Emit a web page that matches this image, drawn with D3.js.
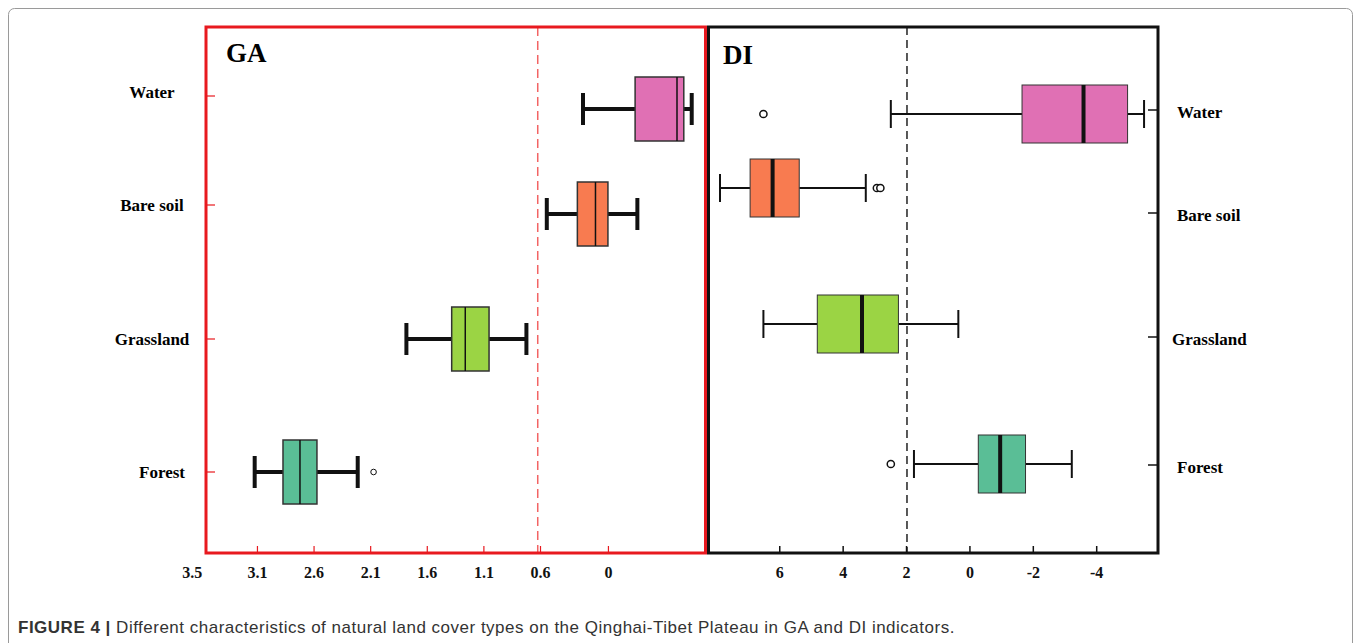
<!DOCTYPE html>
<html>
<head>
<meta charset="utf-8">
<script src="https://cdn.jsdelivr.net/npm/d3@7"></script>
<style>
  body { margin: 0; background: #fff; }
  svg { display: block; }
</style>
</head>
<body>
<div id="chart"></div>
<script>
// categories, top to bottom
const categories = ['Water', 'Bare soil', 'Grassland', 'Forest'];

// GA indicator: whisker low, q1, median, q3, whisker high
const gaLow    = [-0.74, -0.26, 0.72, 2.21];
const gaQ1     = [-0.67,  0.00, 1.05, 2.57];
const gaMedian = [-0.61,  0.11, 1.26, 2.72];
const gaQ3     = [-0.24,  0.27, 1.38, 2.87];
const gaHigh   = [ 0.22,  0.54, 1.78, 3.12];
const gaOutliers = [{ cat: 'Forest', v: 2.07 }];
const gaRef = 0.62;
const gaTicks  = [3.5, 3.1, 2.6, 2.1, 1.6, 1.1, 0.6, 0];

// DI indicator
const diLow    = [-5.51, 3.27, 0.35, -3.23];
const diQ1     = [-4.99, 5.37, 2.24, -1.77];
const diMedian = [-3.60, 6.21, 3.39, -0.97];
const diQ3     = [-1.66, 6.92, 4.80, -0.28];
const diHigh   = [ 2.48, 7.87, 6.50,  1.75];
const diOutliers = [
  { cat: 'Water', v: 6.50 },
  { cat: 'Bare soil', v: 2.92 },
  { cat: 'Bare soil', v: 2.81 },
  { cat: 'Forest', v: 2.48 }
];
const diRef = 1.97;
const diTicks = [6, 4, 2, 0, -2, -4];

const colors = ['#E070B4', '#F87B50', '#9BD444', '#5ABE96'];

const width = 1358, height = 643;
const plotTop = 27, plotBottom = 553;
const serif = '"Liberation Serif", "Times New Roman", serif';

const svg = d3.select('#chart').append('svg')
  .attr('width', width)
  .attr('height', height);

// outer figure frame
svg.append('rect')
  .attr('x', 8.5).attr('y', 8.5)
  .attr('width', 1344).attr('height', 680)
  .attr('rx', 6)
  .attr('fill', 'none')
  .attr('stroke', '#9a9a9a')
  .attr('stroke-width', 1);

const xGA = d3.scaleLinear().domain([3.55, -0.875]).range([206, 707]);
const xDI = d3.scaleLinear().domain([8.28, -5.95]).range([707, 1158]);

const yGA = d3.scaleOrdinal().domain(categories).range([109, 214, 339, 472]);
const yDI = d3.scaleOrdinal().domain(categories).range([114, 188, 324, 464]);
const yGALabel = d3.scaleOrdinal().domain(categories).range([96, 205, 339, 472]);
const yDILabel = d3.scaleOrdinal().domain(categories).range([110, 213, 337, 465]);

function rows(low, q1, med, q3, high) {
  return categories.map((c, i) => ({ cat: c, low: low[i], q1: q1[i], med: med[i], q3: q3[i], high: high[i], color: colors[i] }));
}

function drawBoxes(g, data, x, y, opt) {
  const b = g.selectAll('g.box').data(data).join('g').attr('class', 'box');
  // whiskers
  b.append('line')
    .attr('x1', d => x(d.low)).attr('x2', d => x(d.q1))
    .attr('y1', d => y(d.cat)).attr('y2', d => y(d.cat))
    .attr('stroke', '#111').attr('stroke-width', opt.whisker);
  b.append('line')
    .attr('x1', d => x(d.q3)).attr('x2', d => x(d.high))
    .attr('y1', d => y(d.cat)).attr('y2', d => y(d.cat))
    .attr('stroke', '#111').attr('stroke-width', opt.whisker);
  // caps
  ['low', 'high'].forEach(k => {
    b.append('line')
      .attr('x1', d => x(d[k])).attr('x2', d => x(d[k]))
      .attr('y1', d => y(d.cat) - opt.cap / 2).attr('y2', d => y(d.cat) + opt.cap / 2)
      .attr('stroke', '#111').attr('stroke-width', opt.whisker);
  });
  // box
  b.append('rect')
    .attr('x', d => Math.min(x(d.q1), x(d.q3)))
    .attr('width', d => Math.abs(x(d.q3) - x(d.q1)))
    .attr('y', d => y(d.cat) - opt.boxH / 2)
    .attr('height', opt.boxH)
    .attr('fill', d => d.color)
    .attr('stroke', '#333')
    .attr('stroke-width', opt.boxStroke);
  // median
  b.append('line')
    .attr('x1', d => x(d.med)).attr('x2', d => x(d.med))
    .attr('y1', d => y(d.cat) - opt.boxH / 2).attr('y2', d => y(d.cat) + opt.boxH / 2)
    .attr('stroke', '#111').attr('stroke-width', opt.median);
}

function drawOutliers(g, data, x, y, r, sw) {
  g.selectAll('circle.out').data(data).join('circle')
    .attr('class', 'out')
    .attr('cx', d => x(d.v)).attr('cy', d => y(d.cat))
    .attr('r', r)
    .attr('fill', '#fff').attr('stroke', '#111').attr('stroke-width', sw);
}

// ---- GA panel ----
const ga = svg.append('g');
ga.append('line')
  .attr('x1', xGA(gaRef)).attr('x2', xGA(gaRef))
  .attr('y1', plotTop).attr('y2', plotBottom)
  .attr('stroke', '#F26464').attr('stroke-width', 1.5)
  .attr('stroke-dasharray', '9,5');
drawBoxes(ga, rows(gaLow, gaQ1, gaMedian, gaQ3, gaHigh), xGA, yGA,
  { whisker: 4, cap: 32, boxH: 64, boxStroke: 1.5, median: 1.5 });
drawOutliers(ga, gaOutliers, xGA, yGA, 2.8, 1);

ga.append('g')
  .attr('transform', `translate(0,${plotBottom})`)
  .call(d3.axisBottom(xGA).tickValues(gaTicks).tickSize(-7).tickPadding(14).tickFormat(d => String(d)))
  .call(g => g.select('.domain').remove())
  .call(g => g.selectAll('.tick line').attr('stroke', '#E8191F').attr('stroke-width', 1.2)
    .attr('opacity', d => d === 3.5 ? 0 : 1))
  .call(g => g.selectAll('.tick text')
    .attr('font-family', serif).attr('font-weight', 'bold').attr('font-size', 16).attr('fill', '#111')
    .attr('dx', d => d === 3.5 ? -20 : 0));

// category ticks and labels on the left
ga.selectAll('line.ytick').data(categories).join('line')
  .attr('class', 'ytick')
  .attr('x1', 207).attr('x2', 215)
  .attr('y1', d => yGALabel(d)).attr('y2', d => yGALabel(d))
  .attr('stroke', '#E8191F').attr('stroke-width', 1.2);
ga.selectAll('text.ylab').data(categories).join('text')
  .attr('class', 'ylab')
  .attr('x', d => d === 'Forest' ? 162 : 152)
  .attr('y', d => yGALabel(d) - (d === 'Water' ? 4 : 0))
  .attr('dy', '0.35em')
  .attr('text-anchor', 'middle')
  .attr('font-family', serif).attr('font-weight', 'bold').attr('font-size', 17)
  .text(d => d);

ga.append('rect')
  .attr('x', 206).attr('y', plotTop)
  .attr('width', 499.5).attr('height', plotBottom - plotTop)
  .attr('fill', 'none').attr('stroke', '#E8191F').attr('stroke-width', 3);
ga.append('text')
  .attr('x', 226).attr('y', 62)
  .attr('font-family', serif).attr('font-weight', 'bold').attr('font-size', 27)
  .text('GA');

// ---- DI panel ----
const di = svg.append('g');
di.append('line')
  .attr('x1', xDI(diRef)).attr('x2', xDI(diRef))
  .attr('y1', plotTop).attr('y2', plotBottom)
  .attr('stroke', '#222').attr('stroke-width', 1.5)
  .attr('stroke-dasharray', '8,5');
drawBoxes(di, rows(diLow, diQ1, diMedian, diQ3, diHigh), xDI, yDI,
  { whisker: 2, cap: 28, boxH: 58, boxStroke: 1, median: 4 });
drawOutliers(di, diOutliers, xDI, yDI, 3.6, 1.5);

di.append('g')
  .attr('transform', `translate(0,${plotBottom})`)
  .call(d3.axisBottom(xDI).tickValues(diTicks).tickSize(-7).tickPadding(14).tickFormat(d => String(d)))
  .call(g => g.select('.domain').remove())
  .call(g => g.selectAll('.tick line').attr('stroke', '#111').attr('stroke-width', 1.5))
  .call(g => g.selectAll('.tick text')
    .attr('font-family', serif).attr('font-weight', 'bold').attr('font-size', 16).attr('fill', '#111'));

di.selectAll('line.ytick').data(categories).join('line')
  .attr('class', 'ytick')
  .attr('x1', 1148).attr('x2', 1157)
  .attr('y1', d => yDILabel(d)).attr('y2', d => yDILabel(d))
  .attr('stroke', '#111').attr('stroke-width', 1.5);
di.selectAll('text.ylab').data(categories).join('text')
  .attr('class', 'ylab')
  .attr('x', d => d === 'Grassland' ? 1172 : 1177)
  .attr('y', d => yDILabel(d) + 2)
  .attr('dy', '0.35em')
  .attr('text-anchor', 'start')
  .attr('font-family', serif).attr('font-weight', 'bold').attr('font-size', 17)
  .text(d => d);

di.append('rect')
  .attr('x', 708.5).attr('y', plotTop)
  .attr('width', 1158 - 708.5).attr('height', plotBottom - plotTop)
  .attr('fill', 'none').attr('stroke', '#111').attr('stroke-width', 3);
di.append('text')
  .attr('x', 723).attr('y', 64)
  .attr('font-family', serif).attr('font-weight', 'bold').attr('font-size', 27)
  .text('DI');

// caption
const cap = svg.append('text')
  .attr('x', 18).attr('y', 633)
  .attr('font-family', '"Liberation Sans", Arial, sans-serif')
  .attr('font-size', 17)
  .attr('letter-spacing', 0.5)
  .attr('fill', '#333');
cap.append('tspan').attr('font-weight', 'bold').text('FIGURE 4 | ');
cap.append('tspan').text('Different characteristics of natural land cover types on the Qinghai-Tibet Plateau in GA and DI indicators.');
</script>
</body>
</html>
